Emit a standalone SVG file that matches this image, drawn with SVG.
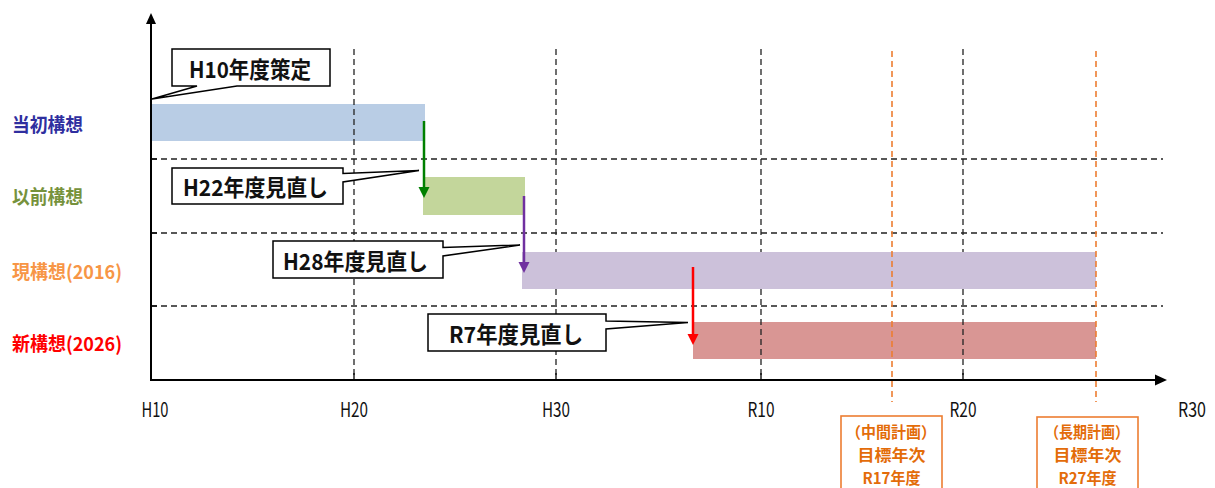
<svg xmlns="http://www.w3.org/2000/svg" width="1215" height="488" viewBox="0 0 1215 488">
<defs>
<style>
text{font-family:"Noto Sans CJK JP","Noto Sans",sans-serif;dominant-baseline:central}
.grid{stroke:#222;stroke-width:1.3;stroke-dasharray:6 4;fill:none}
.ogrid{stroke:#ED7D31;stroke-width:1.6;stroke-dasharray:6 4;fill:none}
.axis{stroke:#000;stroke-width:2;fill:none}
.call{fill:#fff;stroke:#000;stroke-width:1.5}
.ctext{font-size:22.5px;font-weight:bold;fill:#111;text-anchor:middle}
.lbl{font-size:19px;font-weight:bold}
.tick{font-size:20px;fill:#111;text-anchor:middle}
.obox{fill:#fff;stroke:#ED7D31;stroke-width:1.6}
.otext{font-size:15.5px;font-weight:bold;fill:#E36C09;text-anchor:middle}
</style>
</defs>
<rect width="1215" height="488" fill="#fff"/>
<g id="bars-under">
<rect x="151" y="104" width="274" height="37" fill="#B9CDE5"/>
<rect x="423" y="177" width="102" height="38" fill="#C3D69B"/>
<rect x="693" y="322" width="403" height="37" fill="#D99694"/>
</g>
<g id="grid">
<line class="grid" x1="354" y1="49" x2="354" y2="380"/>
<line class="grid" x1="556" y1="49" x2="556" y2="380"/>
<line class="grid" x1="761" y1="49" x2="761" y2="380"/>
<line class="grid" x1="963" y1="49" x2="963" y2="380"/>
<line class="grid" x1="151" y1="159" x2="1163" y2="159"/>
<line class="grid" x1="151" y1="233" x2="1163" y2="233"/>
<line class="grid" x1="151" y1="306" x2="1163" y2="306"/>
</g>
<g id="bar-current">
<rect x="522" y="252" width="574" height="37" fill="#CCC1DA"/>
</g>
<g id="target-lines">
<line class="ogrid" x1="892" y1="51" x2="892" y2="402"/>
<line class="ogrid" x1="1096" y1="51" x2="1096" y2="402"/>
</g>
<g id="axes">
<line class="axis" x1="151" y1="22" x2="151" y2="380"/>
<line class="axis" x1="150" y1="380" x2="1157" y2="380"/>
<polygon points="151,13 146,24 156,24" fill="#000"/>
<polygon points="1167,380 1155,374.5 1155,385.5" fill="#000"/>
<g stroke="#000" stroke-width="1.3">
<line x1="354" y1="373" x2="354" y2="380"/>
<line x1="556" y1="373" x2="556" y2="380"/>
<line x1="761" y1="373" x2="761" y2="380"/>
<line x1="963" y1="373" x2="963" y2="380"/>
<line x1="151" y1="159" x2="157" y2="159"/>
<line x1="151" y1="233" x2="157" y2="233"/>
<line x1="151" y1="306" x2="157" y2="306"/>
</g>
<text class="tick" x="155" y="408" textLength="27" lengthAdjust="spacingAndGlyphs">H10</text>
<text class="tick" x="354" y="408" textLength="28" lengthAdjust="spacingAndGlyphs">H20</text>
<text class="tick" x="556" y="408" textLength="28" lengthAdjust="spacingAndGlyphs">H30</text>
<text class="tick" x="761" y="408" textLength="27" lengthAdjust="spacingAndGlyphs">R10</text>
<text class="tick" x="963" y="408" textLength="27" lengthAdjust="spacingAndGlyphs">R20</text>
<text class="tick" x="1192" y="408" textLength="28" lengthAdjust="spacingAndGlyphs">R30</text>
</g>
<g id="row-labels">
<text class="lbl" x="12" y="123" fill="#2F2F9F" textLength="71" lengthAdjust="spacingAndGlyphs">当初構想</text>
<text class="lbl" x="12" y="195" fill="#76923C" textLength="71" lengthAdjust="spacingAndGlyphs">以前構想</text>
<text class="lbl" x="12" y="270" fill="#F79646" textLength="110" lengthAdjust="spacingAndGlyphs">現構想(2016)</text>
<text class="lbl" x="12" y="342.5" fill="#FF0000" textLength="110" lengthAdjust="spacingAndGlyphs">新構想(2026)</text>
</g>
<g id="connectors">
<line x1="424" y1="121" x2="424" y2="188" stroke="#008000" stroke-width="2.5"/>
<polygon points="424,198 418.5,187 429.5,187" fill="#008000"/>
<line x1="524" y1="196" x2="524" y2="263" stroke="#7030A0" stroke-width="2.5"/>
<polygon points="524,273 518.5,262 529.5,262" fill="#7030A0"/>
<line x1="693" y1="267" x2="693" y2="335" stroke="#FF0000" stroke-width="2.5"/>
<polygon points="693,345 687.5,334 698.5,334" fill="#FF0000"/>
</g>
<g id="callout-h10">
<path class="call" d="M172,49 H330 V86 H237 L152,99 L197,86 H172 Z"/>
<text class="ctext" x="250" y="67.5" textLength="122" lengthAdjust="spacingAndGlyphs">H10年度策定</text>
</g>
<g id="callout-h22">
<path class="call" d="M172,168 H343 V173.5 L419,170.5 L343,182 V204 H172 Z"/>
<text class="ctext" x="255.5" y="186" textLength="145" lengthAdjust="spacingAndGlyphs">H22年度見直し</text>
</g>
<g id="callout-h28">
<path class="call" d="M273,241 H443 V247.5 L520,245 L443,256 V278 H273 Z"/>
<text class="ctext" x="355.5" y="259.5" textLength="145" lengthAdjust="spacingAndGlyphs">H28年度見直し</text>
</g>
<g id="callout-r7">
<path class="call" d="M428,314 H606 V321 L688,322.5 L606,329 V351 H428 Z"/>
<text class="ctext" x="516" y="332.5" textLength="134" lengthAdjust="spacingAndGlyphs">R7年度見直し</text>
</g>
<g id="target-mid">
<rect class="obox" x="841" y="416" width="101" height="80"/>
<text class="otext" x="891" y="431" textLength="90" lengthAdjust="spacingAndGlyphs">（中間計画）</text>
<text class="otext" x="891.5" y="454" textLength="68" lengthAdjust="spacingAndGlyphs">目標年次</text>
<text class="otext" x="891.5" y="477" textLength="58" lengthAdjust="spacingAndGlyphs">R17年度</text>
</g>
<g id="target-long">
<rect class="obox" x="1037" y="417" width="101" height="80"/>
<text class="otext" x="1087" y="431" textLength="84" lengthAdjust="spacingAndGlyphs">（長期計画）</text>
<text class="otext" x="1087.5" y="454" textLength="68" lengthAdjust="spacingAndGlyphs">目標年次</text>
<text class="otext" x="1087.5" y="477" textLength="58" lengthAdjust="spacingAndGlyphs">R27年度</text>
</g>
</svg>
